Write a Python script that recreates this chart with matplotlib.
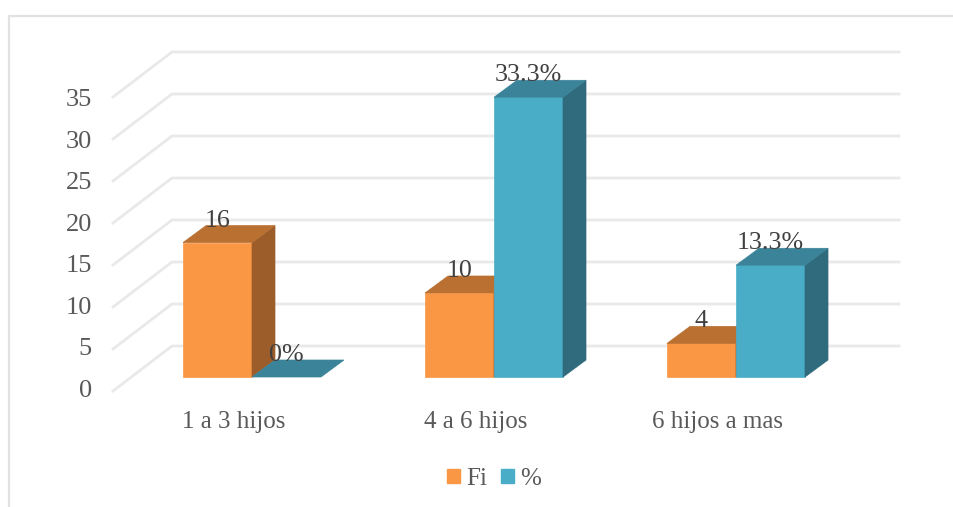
import matplotlib
matplotlib.use("Agg")
import matplotlib.pyplot as plt
from matplotlib.lines import Line2D
from matplotlib.patches import Patch

plt.rcParams['font.family'] = ['Liberation Serif', 'DejaVu Serif']

categories = ["1 a 3 hijos", "4 a 6 hijos", "6 hijos a mas"]
fi = [16, 10, 4]
pct = [0, 33.3, 13.3]
y_ticks = [0, 5, 10, 15, 20, 25, 30, 35]

W, H = 954, 507
px_x = 242.0          # pixels per category
px_y = 8.4            # pixels per unit
bar_w = 69 / px_x
dx = 23 / px_x        # bar depth
dy = 17 / px_y

orange = ('#FA9745', '#9C5D2A', '#BA7031')
teal = ('#4AADC8', '#2F6B7C', '#3A8399')

fig = plt.figure(figsize=(W / 100, H / 100), dpi=100)
ax = fig.add_axes([0, 0, 1, 1])
ax.set_xlim(-252 / px_x, (W - 252) / px_x)
ax.set_ylim(-(H - 377) / px_y, 377 / px_y)
ax.axis('off')

# outer frame
fig.add_artist(Line2D([9.5 / W, 9.5 / W, 1], [0, 1 - 15.5 / H, 1 - 15.5 / H], color='#e2e2e2', lw=1.6))

# walls
wall_l = (113 - 252) / px_x
wall_m = (172 - 252) / px_x
wall_r = (899 - 252) / px_x
front = -14 / px_y
back = 31 / px_y
for v in y_ticks:
    ax.plot([wall_l, wall_m, wall_r], [v + front, v + back, v + back], color='#e9e9e9', lw=2.0, zorder=1)
    ax.text(wall_l - 21 / px_x, v * 0.99 - 14 / px_y, str(v), ha='right', va='center', fontsize=19, color='#595959')


def bar3d(x0, v, cols):
    x1 = x0 + bar_w
    if v > 0:
        ax.fill([x0, x1, x1, x0], [0, 0, v, v], color=cols[0], lw=0.5, zorder=3)
        ax.fill([x1, x1 + dx, x1 + dx, x1], [0, dy, v + dy, v], color=cols[1], lw=0.5, zorder=3)
    ax.fill([x0, x1, x1 + dx, x0 + dx], [v, v, v + dy, v + dy], color=cols[2], lw=0.5, zorder=3)


for i, cat in enumerate(categories):
    bar3d(i - bar_w, fi[i], orange)
    bar3d(i, pct[i], teal)
    ax.text(i - bar_w / 2, fi[i] + 22 / px_y, str(fi[i]), ha='center', va='center', fontsize=18.7, color='#404040', zorder=5)
    ax.text(i + bar_w / 2, pct[i] + 22 / px_y, f"{pct[i]:g}%", ha='center', va='center', fontsize=18.7, color='#404040', zorder=5)
    ax.text(i - 18 / px_x, -45 / px_y, cat, ha='center', va='center', fontsize=18, color='#595959')

handles = [Patch(color=orange[0], label='Fi'), Patch(color=teal[0], label='%')]
fig.legend(handles=handles, loc='center', bbox_to_anchor=(494 / W, 1 - 479 / H), ncol=2, frameon=False,
           fontsize=18, labelcolor='#595959', handlelength=0.52, handleheight=0.52,
           handletextpad=0.25, columnspacing=0.55, borderpad=0)

fig.savefig("out.png", dpi=100)
